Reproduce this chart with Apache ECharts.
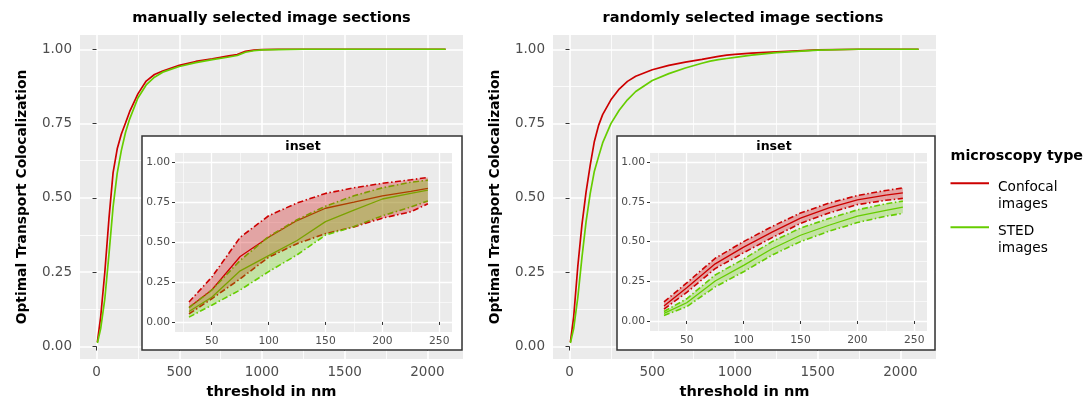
<!DOCTYPE html>
<html><head><meta charset="utf-8">
<script src="https://cdn.jsdelivr.net/npm/echarts@6/dist/echarts.min.js"></script>
<style>html,body{margin:0;padding:0;background:#fff}#c{width:1085px;height:405px}</style>
</head><body><div id="c"></div><script>
// ---------- data ----------
const thresholds = [5, 25, 50, 75, 100, 125, 150, 175, 200, 250, 300, 350, 400, 500, 600, 700, 800, 850, 900, 950, 1000, 1100, 1250, 1500, 1750, 2000, 2110];
const manualConfocal = [0.015, 0.10, 0.25, 0.43, 0.585, 0.665, 0.715, 0.752, 0.79, 0.85, 0.893, 0.915, 0.927, 0.946, 0.959, 0.968, 0.978, 0.982, 0.993, 0.997, 0.999, 1.0, 1.0, 1.0, 1.0, 1.0, 1.0];
const manualSTED     = [0.012, 0.06, 0.16, 0.31, 0.47, 0.583, 0.66, 0.72, 0.765, 0.836, 0.88, 0.906, 0.923, 0.942, 0.955, 0.965, 0.974, 0.979, 0.99, 0.995, 0.998, 0.999, 1.0, 1.0, 1.0, 1.0, 1.0];
const randomConfocal = [0.015, 0.10, 0.27, 0.41, 0.52, 0.61, 0.69, 0.743, 0.78, 0.83, 0.866, 0.892, 0.909, 0.931, 0.946, 0.957, 0.966, 0.971, 0.976, 0.98, 0.983, 0.987, 0.991, 0.998, 1.0, 1.0, 1.0];
const randomSTED     = [0.012, 0.06, 0.165, 0.30, 0.42, 0.515, 0.59, 0.638, 0.685, 0.75, 0.795, 0.83, 0.858, 0.895, 0.918, 0.937, 0.953, 0.96, 0.965, 0.969, 0.973, 0.98, 0.989, 0.997, 1.0, 1.0, 1.0];

const insetX = [30, 50, 75, 100, 125, 150, 175, 200, 225, 240];
// manual inset
const manConfMed = [0.09, 0.20, 0.41, 0.53, 0.635, 0.712, 0.75, 0.79, 0.818, 0.837];
const manConfHi  = [0.125, 0.28, 0.53, 0.665, 0.745, 0.805, 0.84, 0.868, 0.89, 0.905];
const manConfLo  = [0.05, 0.145, 0.27, 0.405, 0.49, 0.553, 0.595, 0.65, 0.69, 0.74];
const manStedMed = [0.065, 0.155, 0.32, 0.415, 0.51, 0.628, 0.70, 0.77, 0.805, 0.825];
const manStedHi  = [0.09, 0.20, 0.385, 0.535, 0.64, 0.725, 0.79, 0.84, 0.875, 0.888];
const manStedLo  = [0.03, 0.105, 0.20, 0.315, 0.42, 0.544, 0.597, 0.665, 0.72, 0.758];
// random inset
const rndConfMed = [0.095, 0.21, 0.36, 0.465, 0.56, 0.648, 0.712, 0.763, 0.793, 0.807];
const rndConfHi  = [0.12, 0.24, 0.395, 0.50, 0.595, 0.68, 0.742, 0.79, 0.822, 0.838];
const rndConfLo  = [0.075, 0.18, 0.33, 0.43, 0.525, 0.615, 0.68, 0.733, 0.76, 0.772];
const rndStedMed = [0.048, 0.115, 0.252, 0.35, 0.455, 0.54, 0.603, 0.66, 0.697, 0.717];
const rndStedHi  = [0.06, 0.14, 0.29, 0.39, 0.50, 0.585, 0.645, 0.70, 0.738, 0.755];
const rndStedLo  = [0.035, 0.09, 0.215, 0.31, 0.415, 0.50, 0.565, 0.62, 0.66, 0.678];

const mainXTicks = [0, 500, 1000, 1500, 2000];
const mainXMinor = [250, 750, 1250, 1750];
const yTicks = [0, 0.25, 0.5, 0.75, 1];
const yMinor = [0.125, 0.375, 0.625, 0.875];
const insetXTicks = [50, 100, 150, 200, 250];
const insetXMinor = [25, 75, 125, 175, 225];

const seriesNames = ['Confocal images', 'STED images'];
const panelTitles = ['manually selected image sections', 'randomly selected image sections'];
const legendTitle = 'microscopy type';
const xTitle = 'threshold in nm';
const yTitle = 'Optimal Transport Colocalization';

// ---------- styling ----------
const RED = '#CD0000', GREEN = '#66CD00';
const FONT = 'DejaVu Sans';
const pairs = (xs, ys) => xs.map((x, i) => [x, ys[i]]);

function axes(dim, gridIndex, min, max, ticks, minor, o) {
  const fmt = dim === 'y' ? (v => v.toFixed(2)) : (v => String(v));
  const major = {
    type: 'value', gridIndex, min, max, z: o.z,
    axisLine: { show: false },
    axisTick: { show: true, customValues: ticks, length: o.tickLen, lineStyle: { color: '#333333', width: 1 } },
    axisLabel: { show: true, customValues: ticks, formatter: fmt, color: '#4D4D4D', fontSize: o.fontSize, fontFamily: FONT, margin: o.margin },
    splitLine: { show: true, lineStyle: { color: '#FFFFFF', width: o.majorW } },
    minorTick: { show: false }, minorSplitLine: { show: false }
  };
  if (o.name) {
    Object.assign(major, { name: o.name, nameLocation: 'middle', nameGap: o.nameGap,
      nameTextStyle: { fontFamily: FONT, fontWeight: 'bold', fontSize: o.nameSize, color: '#000' } });
  }
  major.position = dim === 'x' ? 'bottom' : 'left';
  const min2 = {
    type: 'value', gridIndex, min, max, z: o.z,
    position: dim === 'x' ? 'top' : 'right',
    axisLine: { show: false },
    axisTick: { show: false, customValues: minor },
    axisLabel: { show: false, customValues: minor },
    splitLine: { show: true, lineStyle: { color: '#FFFFFF', width: o.minorW } }
  };
  return [major, min2];
}

const mainXOpt = { z: 0, tickLen: 4, fontSize: 13.5, margin: 6, majorW: 1.6, minorW: 0.8, name: xTitle, nameGap: 26, nameSize: 14.6 };
const mainYOpt = { z: 0, tickLen: 4, fontSize: 13.5, margin: 8, majorW: 1.6, minorW: 0.8, name: yTitle, nameGap: 51, nameSize: 13.8 };
const insXOpt = { z: 21, tickLen: 3, fontSize: 10.7, margin: 4, majorW: 1.3, minorW: 0.6 };
const insYOpt = { z: 21, tickLen: 3, fontSize: 10.7, margin: 5, majorW: 1.3, minorW: 0.6 };

const MX = [-100, 2215], MY = [-0.042, 1.048];
const IX = [17.7, 261.2], IY = [-0.063, 1.058];

const xAxis = [].concat(
  axes('x', 0, MX[0], MX[1], mainXTicks, mainXMinor, mainXOpt),
  axes('x', 1, IX[0], IX[1], insetXTicks, insetXMinor, insXOpt),
  axes('x', 2, MX[0], MX[1], mainXTicks, mainXMinor, mainXOpt),
  axes('x', 3, IX[0], IX[1], insetXTicks, insetXMinor, insXOpt)
);
const yAxis = [].concat(
  axes('y', 0, MY[0], MY[1], yTicks, yMinor, mainYOpt),
  axes('y', 1, IY[0], IY[1], yTicks, yMinor, insYOpt),
  axes('y', 2, MY[0], MY[1], yTicks, yMinor, mainYOpt),
  axes('y', 3, IY[0], IY[1], yTicks, yMinor, insYOpt)
);

const gridBase = { show: true, backgroundColor: '#EBEBEB', borderWidth: 0, containLabel: false };
const grid = [
  Object.assign({ left: 80, top: 35, width: 383, height: 325, z: 0 }, gridBase),
  Object.assign({ left: 175, top: 153, width: 277, height: 179, z: 21 }, gridBase),
  Object.assign({ left: 553, top: 35, width: 383, height: 325, z: 0 }, gridBase),
  Object.assign({ left: 650, top: 153, width: 277, height: 178, z: 21 }, gridBase)
];

function mainLine(name, ys, color, axisIdx) {
  return { type: 'line', name, color, xAxisIndex: axisIdx, yAxisIndex: axisIdx, data: pairs(thresholds, ys),
    showSymbol: false, symbol: 'none', lineStyle: { color, width: 1.7 }, z: 2, silent: true };
}
function insetLine(name, ys, color, axisIdx, dashed) {
  return { type: 'line', name, color, xAxisIndex: axisIdx, yAxisIndex: axisIdx, data: pairs(insetX, ys),
    showSymbol: false, symbol: 'none', z: 22, silent: true,
    lineStyle: { color, width: dashed ? 1.6 : 1.3, type: dashed ? [6, 2.5, 1.5, 2.5] : 'solid' } };
}
function ribbon(name, lo, hi, fill, axisIdx, z) {
  return { type: 'custom', name, xAxisIndex: axisIdx, yAxisIndex: axisIdx, z, silent: true,
    data: [[insetX[0], lo[0]]],
    renderItem(params, api) {
      const pts = [];
      for (let i = 0; i < insetX.length; i++) pts.push(api.coord([insetX[i], hi[i]]));
      for (let i = insetX.length - 1; i >= 0; i--) pts.push(api.coord([insetX[i], lo[i]]));
      return { type: 'polygon', shape: { points: pts }, style: { fill } };
    } };
}
const RED_A = 'rgba(205,0,0,0.3)', GREEN_A = 'rgba(102,205,0,0.3)';

function insetSet(ax, cMed, cHi, cLo, sMed, sHi, sLo) {
  return [
    insetLine('c-med-' + ax, cMed, RED, ax, false),
    insetLine('c-hi-' + ax, cHi, RED, ax, true),
    insetLine('c-lo-' + ax, cLo, RED, ax, true),
    insetLine('s-med-' + ax, sMed, GREEN, ax, false),
    insetLine('s-hi-' + ax, sHi, GREEN, ax, true),
    insetLine('s-lo-' + ax, sLo, GREEN, ax, true),
    ribbon('c-rib-' + ax, cLo, cHi, RED_A, ax, 23),
    ribbon('s-rib-' + ax, sLo, sHi, GREEN_A, ax, 24)
  ];
}

const series = [].concat(
  [mainLine(seriesNames[0], manualConfocal, RED, 0), mainLine(seriesNames[1], manualSTED, GREEN, 0)],
  insetSet(2, manConfMed, manConfHi, manConfLo, manStedMed, manStedHi, manStedLo),
  [mainLine(seriesNames[0], randomConfocal, RED, 4), mainLine(seriesNames[1], randomSTED, GREEN, 4)],
  insetSet(6, rndConfMed, rndConfHi, rndConfLo, rndStedMed, rndStedHi, rndStedLo)
);

function txt(text, x, y, size, align) {
  return { type: 'text', x, y, z: 30, silent: true,
    style: { text, fill: '#000', font: 'bold ' + size + 'px "' + FONT + '"', textAlign: align, textVerticalAlign: 'middle' } };
}

const graphic = { elements: [
  { type: 'rect', shape: { x: 142, y: 136, width: 320, height: 214 }, style: { fill: '#FFFFFF', stroke: '#333333', lineWidth: 1.5 }, z: 20, silent: true },
  { type: 'rect', shape: { x: 617, y: 136, width: 318, height: 214 }, style: { fill: '#FFFFFF', stroke: '#333333', lineWidth: 1.5 }, z: 20, silent: true },
  txt(panelTitles[0], 271.5, 18.3, 14.6, 'center'),
  txt(panelTitles[1], 743, 18.3, 14.6, 'center'),
  txt('inset', 303, 146.7, 12.6, 'center'),
  txt('inset', 774, 146.7, 12.6, 'center'),
  txt(legendTitle, 950.5, 156.7, 14.3, 'left')
] };

// legend: key aligned with the first text line (ggplot style)
function legendFor(name, top) {
  const parts = name.split(' ');
  return { data: [name], left: 950.5, top, orient: 'vertical', padding: 0, itemWidth: 38.5, itemHeight: 2,
    icon: 'rect', selectedMode: false,
    formatter: () => '{e| }\n{a|' + parts[0] + '}\n{a|' + parts[1] + '}',
    textStyle: { fontFamily: FONT, fontSize: 13.7, color: '#000',
      rich: { e: { lineHeight: 25, fontSize: 1, padding: [0, 0, 0, 4] }, a: { lineHeight: 17, fontSize: 13.7, fontFamily: FONT, color: '#000', padding: [0, 0, 0, 4] } } } };
}

const option = {
  animation: false,
  backgroundColor: '#FFFFFF',
  grid, xAxis, yAxis, series, graphic,
  legend: [legendFor(seriesNames[0], 165.8), legendFor(seriesNames[1], 209.8)]
};

const chart = echarts.init(document.getElementById('c'), null, { renderer: 'canvas' });
chart.setOption(option);
</script></body></html>
